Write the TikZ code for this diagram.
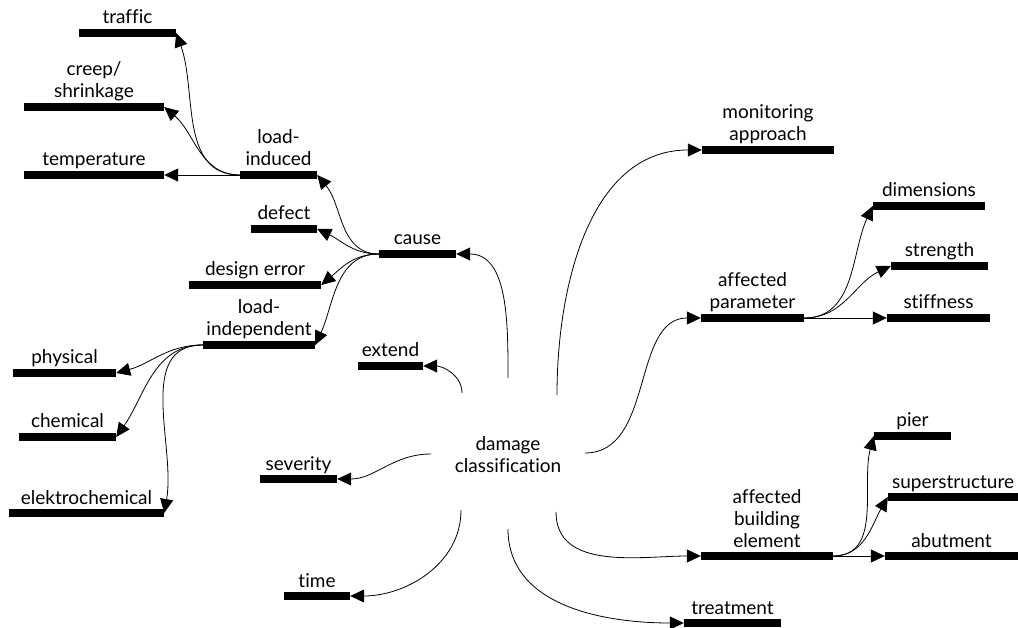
\documentclass[tikz,border=0pt]{standalone}
\usepackage{fontspec}
\setmainfont{Lato}[Ligatures=NoCommon]
\usetikzlibrary{arrows.meta}

% a topic: a black bar with its caption set above it
% #1 name, #2 left x, #3 right x, #4 bar centre y (downwards), #5 caption
\newcommand\topic[5]{%
  \node[bar, minimum width={(#3)-(#2)}] (#1) at ({((#2)+(#3))/2},{-(#4)}) {};
  \node[txt] (#1-label) at ([yshift=9pt]#1.center) {#5};}

\begin{document}
\begin{tikzpicture}[x=1pt,y=1pt,
  bar/.style={rectangle, fill=black, inner sep=0pt, minimum height=8pt},
  txt/.style={anchor=base, inner sep=0pt, align=center,
              font=\fontsize{19}{22}\selectfont},
  link/.style={line width=0.8pt, -{Triangle[length=14pt,width=13pt]}},
  ]
\useasboundingbox (0,0) rectangle (1018,-628);

% centre
\node[txt] (dc) at (508,-472) {damage\\classification};
\coordinate (dc-cause)   at (508,-378);
\coordinate (dc-extend)  at (462,-393);
\coordinate (dc-monitor) at (557,-395);
\coordinate (dc-sev)     at (431,-454);
\coordinate (dc-param)   at (585,-453);
\coordinate (dc-time)    at (461,-510);
\coordinate (dc-treat)   at (508,-529);
\coordinate (dc-build)   at (556,-512);

% left branches
\topic{traffic}{79}{176}{33}{traffic}
\topic{creep}{24}{164}{107}{creep/\\shrinkage}
\topic{temp}{24}{164}{175}{temperature}
\topic{loadind}{240}{317}{175}{load-\\induced}
\topic{defect}{251}{317}{229}{defect}
\topic{cause}{379}{456}{254}{cause}
\topic{design}{189}{321}{285}{design error}
\topic{loadindep}{203}{315}{345}{load-\\independent}
\topic{physical}{13}{116}{373}{physical}
\topic{chemical}{19}{116}{437}{chemical}
\topic{elektro}{9}{164}{513}{elektrochemical}
\topic{extend}{358}{423}{366}{extend}
\topic{severity}{260}{337}{479}{severity}
\topic{time}{284}{350}{596}{time}

% right branches
\topic{monitor}{702}{834}{150}{monitoring\\approach}
\topic{dim}{873}{985}{206}{dimensions}
\topic{strength}{891}{988}{266}{strength}
\topic{stiff}{887}{990}{318}{stiffness}
\topic{param}{701}{804}{318}{affected\\parameter}
\topic{pier}{874}{951}{436}{pier}
\topic{super}{888}{1018}{497}{superstructure}
\topic{abut}{885}{1018}{556}{abutment}
\topic{build}{701}{833}{556}{affected\\building\\element}
\topic{treat}{684}{781}{623}{treatment}

% connectors from the centre
\draw[link] (dc-cause)   to[out=90,in=0]    (cause.east);
\draw[link] (dc-extend)  to[out=90,in=0]    (extend.east);
\draw[link] (dc-sev)     to[out=180,in=0]   (severity.east);
\draw[link] (dc-time)    to[out=-90,in=0]   (time.east);
\draw[link] (dc-monitor) to[out=90,in=180]  (monitor.west);
\draw[link] (dc-param)   to[out=0,in=180]   (param.west);
\draw[link] (dc-build)   to[out=-90,in=180] (build.west);
\draw[link] (dc-treat)   to[out=-90,in=180] (treat.west);

% cause
\draw[link] (cause.west) to[out=180,in=-50] (loadind.east);
\draw[link] (cause.west) to[out=180,in=-25] (defect.east);
\draw[link] (cause.west) to[out=180,in=40]  (design.east);
\draw[link] (cause.west) to[out=180,in=65]  (loadindep.east);

% load-induced
\draw[link] (loadind.west) to[out=180,in=-70] (traffic.east);
\draw[link] (loadind.west) to[out=180,in=-40] (creep.east);
\draw[link] (loadind.west) -- (temp.east);

% load-independent
\draw[link] (loadindep.west) to[out=180,in=15] (physical.east);
\draw[link] (loadindep.west) to[out=180,in=55] (chemical.east);
\draw[link] (loadindep.west) to[out=180,in=80] (elektro.east);

% affected parameter
\draw[link] (param.east) to[out=0,in=-115] (dim.west);
\draw[link] (param.east) to[out=0,in=-155] (strength.west);
\draw[link] (param.east) -- (stiff.west);

% affected building element
\draw[link] (build.east) to[out=0,in=-105] (pier.west);
\draw[link] (build.east) to[out=0,in=-120] (super.west);
\draw[link] (build.east) -- (abut.west);
\end{tikzpicture}
\end{document}
